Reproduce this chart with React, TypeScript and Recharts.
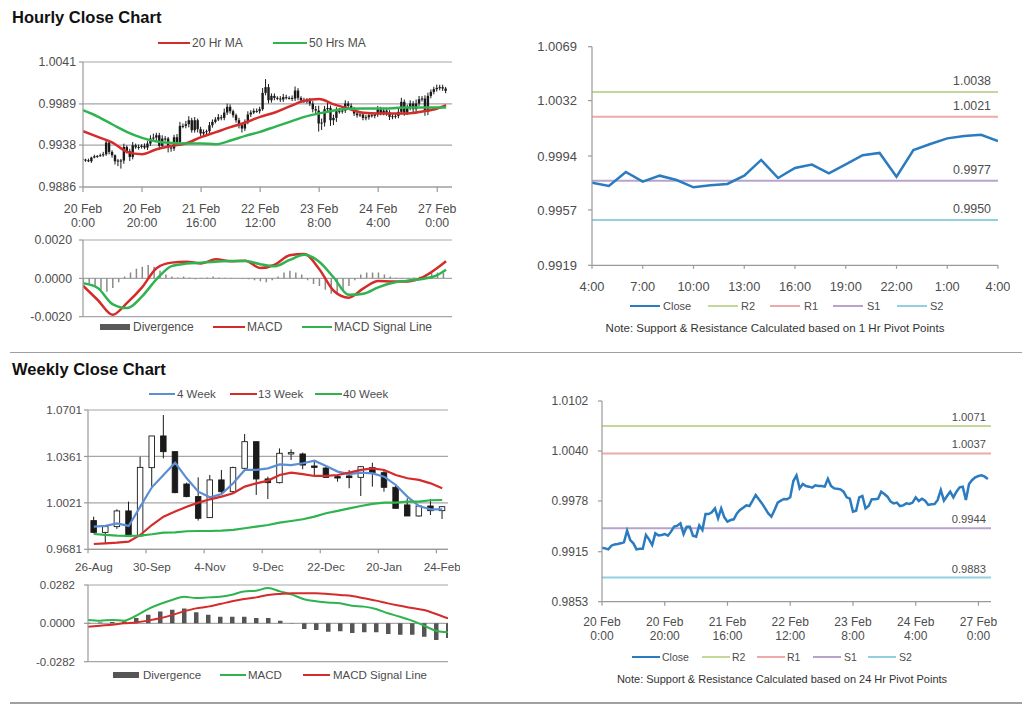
import React from 'react';
import { ComposedChart, LineChart, Line, Bar, XAxis, YAxis, CartesianGrid, ReferenceLine } from 'recharts';

const FONT = '"Liberation Sans", Arial, Helvetica, sans-serif';
const TXT = '#4d4d4d';
const GRID = '#a6a6a6';
const AXIS = '#9a9a9a';
const PIP = 0.0001;

// hourly closes, 20 Feb 0:00 onwards, one per hour
const hourClose = [
  0.992, 0.99192, 0.99179, 0.99225, 0.99241, 0.99246, 0.99254, 0.99266, 0.99411, 0.99295,
  0.99254, 0.99179, 0.99188, 0.99188, 0.99357, 0.99304, 0.99233, 0.99378, 0.99353, 0.99357,
  0.9937, 0.99349, 0.99399, 0.99461, 0.99473, 0.99502, 0.9937, 0.99461, 0.99461, 0.99349,
  0.99337, 0.99477, 0.99419, 0.99618, 0.99618, 0.99639, 0.99688, 0.99564, 0.99688, 0.99577,
  0.99523, 0.99543, 0.99552, 0.99626, 0.99668, 0.99697, 0.99725, 0.99717, 0.99783, 0.99854,
  0.998, 0.9975, 0.99688, 0.99626, 0.99585, 0.99668, 0.99759, 0.99783, 0.99804, 0.998,
  0.99825, 1.00027, 1.00098, 0.99936, 0.9999, 0.99965, 0.99957, 0.99945, 0.99974, 0.99965,
  0.99965, 0.99957, 1.00056, 0.99965, 0.99936, 0.99932, 0.99924, 0.99895, 0.99825, 0.99808,
  0.99647, 0.99659, 0.99825, 0.99841, 0.99688, 0.99717, 0.998, 0.998, 0.99808, 0.99895,
  0.99866, 0.99833, 0.99771, 0.9975, 0.99759, 0.99717, 0.99725, 0.9975, 0.99742, 0.99759,
  0.99825, 0.99779, 0.99808, 0.99783, 0.9973, 0.99738, 0.99742, 0.99792, 0.99916, 0.99783,
  0.99841, 0.99895, 0.99825, 0.99895, 0.99949, 0.99957, 0.99792, 0.9999, 1.0004, 1.00073,
  1.00089, 1.00098, 1.00081, 1.00052,
];
const hourFirstOpen = 0.9921;
// wick beyond the candle body, in pips
const hourWickUp = [
  2, 1, 2, 1, 2, 1, 2, 3, 4, 2, 2, 1, 2, 2, 4, 2, 3, 4, 2, 3, 2, 3, 3, 4, 5, 3, 3, 4, 3, 2,
  3, 3, 4, 5, 3, 4, 5, 3, 4, 2, 3, 3, 2, 4, 3, 3, 4, 3, 5, 4, 3, 2, 2, 3, 2, 3, 4, 3, 3, 3,
  3, 6, 10, 4, 3, 3, 2, 3, 4, 3, 2, 3, 5, 3, 2, 3, 3, 4, 3, 4, 6, 5, 4, 6, 3, 4, 5, 4, 3, 4,
  3, 3, 2, 3, 3, 2, 3, 2, 3, 2, 4, 3, 3, 2, 3, 3, 3, 4, 5, 3, 4, 4, 3, 5, 4, 3, 4, 4, 3, 3,
  4, 3, 3, 2,
];
const hourWickDn = [
  2, 2, 1, 2, 1, 2, 1, 2, 2, 3, 3, 4, 6, 10, 4, 3, 5, 3, 2, 3, 2, 2, 3, 3, 3, 4, 5, 3, 3, 6,
  4, 3, 3, 3, 3, 3, 4, 3, 3, 4, 3, 3, 3, 3, 3, 2, 2, 3, 3, 3, 3, 3, 3, 4, 5, 3, 3, 3, 2, 2,
  3, 2, 3, 4, 3, 3, 2, 3, 3, 2, 2, 3, 3, 3, 2, 3, 3, 3, 4, 5, 10, 8, 5, 4, 7, 6, 5, 3, 3, 3,
  3, 2, 3, 3, 2, 3, 3, 3, 2, 3, 3, 3, 3, 4, 4, 3, 3, 3, 3, 4, 3, 3, 4, 3, 3, 3, 5, 4, 3, 3,
  3, 3, 3, 3,
];
const maHours = [0, 5, 10, 15, 20, 25, 30, 35, 40, 45, 50, 55, 60, 65, 70, 75, 80, 85, 90, 95, 100, 105, 110, 115, 120, 123];
const ma20 = [
  0.99552, 0.99482, 0.99411, 0.99295, 0.99266, 0.99328, 0.9937, 0.99403, 0.99478, 0.9954,
  0.99602, 0.9966, 0.9973, 0.99784, 0.99859, 0.99929, 0.9995, 0.99884, 0.9983, 0.9978,
  0.99772, 0.99772, 0.99772, 0.99797, 0.99834, 0.99875,
];
const ma50 = [
  0.99813, 0.99734, 0.99635, 0.9954, 0.99469, 0.99424, 0.99407, 0.99399, 0.99399, 0.99391,
  0.99436, 0.99494, 0.99544, 0.99606, 0.99668, 0.9973, 0.99772, 0.99809, 0.9983, 0.99834,
  0.99834, 0.99838, 0.99846, 0.99846, 0.99846, 0.99846,
];
const macdHourly = [
  -0.00038, -0.00113, -0.0019, -0.00127, -0.00047, 0.00054, 0.00082, 0.00087, 0.00078, 0.00099,
  0.00089, 0.00092, 0.00054, 0.00071, 0.0012, 0.00127, 0.00049, -0.00066, -0.00101, -0.00052,
  -0.00014, -0.00017, -0.00016, 0.00005, 0.00054, 0.00089,
];
const signalHourly = [
  -0.00026, -0.0005, -0.00134, -0.00155, -0.00094, -0.00003, 0.00064, 0.00077, 0.00082, 0.00087,
  0.0009, 0.0009, 0.00074, 0.00063, 0.00096, 0.00123, 0.00087, 0.00003, -0.00086, -0.0008,
  -0.00047, -0.00023, -0.00012, -0.00003, 0.00017, 0.00045,
];
// divergence, every second hour
const divHourly = [
  -0.0002, -0.0003, -0.0004, -0.0006, -0.0007, -0.0005, -0.0002, 0.0001, 0.0003, 0.0005,
  0.0006, 0.0007, 0.0006, 0.0004, 0.0002, 0.0001, 0.00005, 0.0001, 0.00005, -0.00005,
  0.00003, 0.00005, 0.0001, 0.00005, 0.00003, -0.00003, 0.00002, -0.00003, -0.00005, -0.0001,
  -0.00015, -0.0002, -0.0001, 0.0001, 0.0003, 0.0004, 0.0003, 0.0002, -0.0001, -0.0003,
  -0.0004, -0.0006, -0.0008, -0.0008, -0.0006, -0.0004, -0.0001, 0.0002, 0.0003, 0.0003,
  0.0003, 0.0002, 0.0001, 0.00003, -0.00003, -0.00005, 0.00005, 0.0001, 0.0002, 0.0003,
  0.0003, 0.0003,
];
const hourTickHours = [0, 20, 40, 60, 80, 100, 120];
const hourTickLabels = [
  ['20 Feb', '0:00'], ['20 Feb', '20:00'], ['21 Feb', '16:00'], ['22 Feb', '12:00'],
  ['23 Feb', '8:00'], ['24 Feb', '4:00'], ['27 Feb', '0:00'],
];

// last 24 hours
const dayClose = [
  0.99757, 0.99734, 0.9983, 0.99764, 0.99805, 0.99775, 0.99725, 0.99739, 0.99748, 0.99805,
  0.99913, 0.99789, 0.99858, 0.99881, 0.99821, 0.99883, 0.99945, 0.99961, 0.99798, 0.99981,
  1.00022, 1.00061, 1.00077, 1.00086, 1.00043,
];
const dayTicks = [0, 3, 6, 9, 12, 15, 18, 21, 24];
const dayTickLabels = ['4:00', '7:00', '10:00', '13:00', '16:00', '19:00', '22:00', '1:00', '4:00'];

const pivotNames = ['R2', 'R1', 'S1', 'S2'];
const pivots1h = [1.0038, 1.0021, 0.9977, 0.995];
const pivots24h = [1.0071, 1.0037, 0.9944, 0.9883];

// weekly
const weekOpen = [0.9891, 0.9805, 0.9847, 0.9962, 0.9779, 1.0279, 1.0511, 1.0396, 1.0159, 1.0067, 0.9913, 1.0189, 1.0103, 1.0274, 1.0469, 1.0196, 1.0169, 1.0379, 1.0379, 1.0291, 1.0276, 1.0213, 1.0218, 1.0208, 1.0279, 1.0242, 1.0135, 1.0006, 0.9925, 0.9998, 0.9964];
const weekClose = [0.9805, 0.9847, 0.9962, 0.9774, 1.0281, 1.0511, 1.0396, 1.0096, 1.0067, 0.9908, 1.0189, 1.0103, 1.0279, 1.0469, 1.0196, 1.0169, 1.0384, 1.0389, 1.0298, 1.0281, 1.0208, 1.0203, 1.0206, 1.0286, 1.0242, 1.0135, 0.9981, 0.9925, 0.9998, 0.9964, 0.9993];
const weekHigh = [0.992, 0.9852, 0.9974, 1.003, 1.0359, 1.0511, 1.0664, 1.0396, 1.0169, 1.0208, 1.0225, 1.0262, 1.0286, 1.0525, 1.0469, 1.0213, 1.042, 1.0413, 1.0389, 1.0323, 1.0286, 1.0218, 1.0262, 1.0291, 1.0315, 1.0262, 1.0152, 1.0054, 1.0006, 1.0047, 0.9998];
const weekLow = [0.9798, 0.972, 0.983, 0.9774, 0.9774, 1.014, 1.0347, 1.0091, 1.0062, 0.9891, 0.9913, 1.0079, 1.0091, 1.0262, 1.0079, 1.0049, 1.0164, 1.0335, 1.0267, 1.0225, 1.0206, 1.0176, 1.0128, 1.0071, 1.014, 1.0103, 0.9981, 0.9925, 0.992, 0.9932, 0.9903];
const ma4 = [0.9847, 0.9852, 0.9871, 0.9852, 0.9993, 1.0135, 1.0225, 1.0315, 1.0201, 1.0103, 1.0062, 1.0086, 1.0164, 1.0262, 1.0262, 1.0274, 1.0303, 1.0298, 1.0311, 1.033, 1.0291, 1.025, 1.0232, 1.0242, 1.0237, 1.0213, 1.0152, 1.0067, 0.9998, 0.9974, 0.9974];
const ma13 = [0.972, 0.9725, 0.973, 0.9737, 0.9786, 0.9859, 0.992, 0.9957, 0.9993, 1.0023, 1.0047, 1.0067, 1.0091, 1.014, 1.0164, 1.0184, 1.0225, 1.0242, 1.0232, 1.0218, 1.0218, 1.0225, 1.0242, 1.0262, 1.0274, 1.0262, 1.0225, 1.0201, 1.0189, 1.0164, 1.0128];
const ma40 = [0.9793, 0.9786, 0.9781, 0.9779, 0.9781, 0.9791, 0.9803, 0.9805, 0.9813, 0.9815, 0.9815, 0.9818, 0.9823, 0.9835, 0.9847, 0.9859, 0.9876, 0.9888, 0.9901, 0.992, 0.9945, 0.9962, 0.9981, 0.9998, 1.0013, 1.0023, 1.0023, 1.003, 1.003, 1.004, 1.0042];
const macdWeekly = [0.0025, 0.002, 0.0025, 0.002, 0.0056, 0.0105, 0.0142, 0.0172, 0.0196, 0.0186, 0.0191, 0.0196, 0.0211, 0.0235, 0.024, 0.026, 0.0235, 0.0211, 0.0177, 0.0162, 0.0154, 0.0147, 0.013, 0.0123, 0.0105, 0.0074, 0.0049, 0.002, -0.0017, -0.0054, -0.0066];
const signalWeekly = [-0.0025, -0.0017, -0.001, 0, 0.0007, 0.002, 0.0037, 0.0061, 0.0088, 0.011, 0.0123, 0.0142, 0.0162, 0.0179, 0.0191, 0.0208, 0.0216, 0.0221, 0.0221, 0.0221, 0.0216, 0.0208, 0.0201, 0.0184, 0.0167, 0.0147, 0.013, 0.0113, 0.0098, 0.0069, 0.0037];
const divWeekly = [0.0005, 0.0007, 0.001, 0.0015, 0.0039, 0.0064, 0.0088, 0.01, 0.011, 0.0081, 0.0064, 0.0049, 0.0049, 0.0049, 0.0039, 0.0039, 0.002, 0.0002, -0.0042, -0.0049, -0.0061, -0.0059, -0.0071, -0.0066, -0.0066, -0.0078, -0.0083, -0.0083, -0.0098, -0.0123, -0.0108];
const weekTickIdx = [0, 5, 10, 15, 20, 25, 30];
const weekTickLabels = ['26-Aug', '30-Sep', '4-Nov', '9-Dec', '22-Dec', '20-Jan', '24-Feb'];

const yTicksHour = [0.9886, 0.9938, 0.9989, 1.0041];
const yTicksMacdH = [-0.002, 0, 0.002];
const yTicksDay = [0.9919, 0.9957, 0.9994, 1.0032, 1.0069];
const yTicks24 = [0.9853, 0.9915, 0.9978, 1.004, 1.0102];
const yTicksWeek = [0.9681, 1.0021, 1.0361, 1.0701];
const yTicksMacdW = [-0.0282, 0, 0.0282];

// colours
const RED = '#d42b2b';
const GREEN = '#2eb34f';
const BLUE = '#2a7bc0';
const WBLUE = '#5b8ed4';
const pivotColors = ['#c4d79b', '#eeaaaa', '#b7a4cd', '#92cfe0'];

type Row = { [k: string]: number | undefined };

const hourlyRows: Row[] = hourClose.map((c, h) => {
  const o = h === 0 ? hourFirstOpen : hourClose[h - 1];
  return { h, o, c, hi: Math.max(o, c) + hourWickUp[h] * PIP, lo: Math.min(o, c) - hourWickDn[h] * PIP };
});
maHours.forEach((h, k) => {
  Object.assign(hourlyRows[h], { ma20: ma20[k], ma50: ma50[k], macd: macdHourly[k], sig: signalHourly[k] });
});
divHourly.forEach((v, k) => {
  hourlyRows[k * 2].div = v;
});

const dayRows = dayClose.map((c, i) => ({ i, c }));

const weekRows = weekClose.map((c, i) => ({
  i, o: weekOpen[i], c, hi: weekHigh[i], lo: weekLow[i],
  ma4: ma4[i], ma13: ma13[i], ma40: ma40[i],
  macd: macdWeekly[i], sig: signalWeekly[i], div: divWeekly[i],
}));

const fmt4 = (v: number) => v.toFixed(4);

function Candle(props: any) {
  const { x, y, width, height, payload, bodyW, hollow } = props;
  if (!isFinite(x) || !isFinite(y) || !isFinite(height)) return null;
  const top = Math.min(y, y + height);
  const bot = Math.max(y, y + height);
  const { o, c, hi, lo } = payload;
  const k = hi > lo ? (bot - top) / (hi - lo) : 0;
  const py = (v: number) => top + (hi - v) * k;
  const cx = x + width / 2;
  const yo = py(o);
  const yc = py(c);
  const up = c >= o;
  return (
    <g>
      <line x1={cx} x2={cx} y1={top} y2={bot} stroke="#1a1a1a" strokeWidth={1} />
      <rect
        x={cx - bodyW / 2}
        y={Math.min(yo, yc)}
        width={bodyW}
        height={Math.max(1, Math.abs(yo - yc))}
        fill={hollow && up ? '#fff' : '#1a1a1a'}
        stroke="#1a1a1a"
        strokeWidth={hollow ? 0.9 : 0}
      />
    </g>
  );
}

function AxisTick(props: any) {
  const { x, y, lines, size, base, gap, mark, markDx = 0 } = props;
  if (!lines) return null;
  return (
    <g>
      {mark ? <line x1={x + markDx} x2={x + markDx} y1={y} y2={y + mark} stroke={AXIS} strokeWidth={1.2} /> : null}
      <text x={x} y={y + base} textAnchor="middle" fontSize={size} fill={TXT} fontFamily={FONT}>
        {lines.map((t: string, k: number) => (
          <tspan key={k} x={x} dy={k === 0 ? 0 : gap}>{t}</tspan>
        ))}
      </text>
    </g>
  );
}

type Key = { x: number; w: number; tx: number; color: string; label: string; bar?: boolean };

function Keys({ y, size, items }: { y: number; size: number; items: Key[] }) {
  return (
    <>
      {items.map((k) => (
        <React.Fragment key={k.label}>
          <div style={{ position: 'absolute', left: k.x, top: y - (k.bar ? 3 : 1), width: k.w, height: k.bar ? 6 : 2, background: k.color }} />
          <div style={{ position: 'absolute', left: k.tx, top: y - 9, height: 18, lineHeight: '18px', fontSize: size, color: TXT, whiteSpace: 'nowrap' }}>
            {k.label}
          </div>
        </React.Fragment>
      ))}
    </>
  );
}

function Note({ cx, y, size, text }: { cx: number; y: number; size: number; text: string }) {
  return (
    <div style={{ position: 'absolute', left: cx - 260, width: 520, top: y - 9, lineHeight: '18px', textAlign: 'center', fontSize: size, color: '#333', whiteSpace: 'nowrap' }}>
      {text}
    </div>
  );
}

const yAxisCommon = {
  type: 'number' as const,
  allowDataOverflow: true,
  interval: 0 as const,
  axisLine: { stroke: AXIS, strokeWidth: 1.2 },
  tickLine: { stroke: AXIS, strokeWidth: 1.2 },
  tickSize: 4,
  tickFormatter: fmt4,
};

export default function App() {
  return (
    <div style={{ position: 'absolute', left: 0, top: 0, width: 1024, height: 705, background: '#fff', fontFamily: FONT, overflow: 'hidden' }}>
      <div style={{ position: 'absolute', left: 12, top: 6.5, lineHeight: '20px', fontSize: 16.5, fontWeight: 'bold', color: '#111' }}>Hourly Close Chart</div>
      <div style={{ position: 'absolute', left: 12, top: 359, lineHeight: '20px', fontSize: 16.5, fontWeight: 'bold', color: '#111' }}>Weekly Close Chart</div>
      <div style={{ position: 'absolute', left: 10, top: 351.5, width: 1012, height: 1.5, background: '#a0a0a0' }} />
      <div style={{ position: 'absolute', left: 10, top: 702, width: 1012, height: 1.5, background: '#a0a0a0' }} />

      {/* hourly candles */}
      <div style={{ position: 'absolute', left: 0, top: 40 }}>
        <ComposedChart width={465} height={195} data={hourlyRows} margin={{ top: 22, right: 13, left: 0, bottom: 0 }}>
          <CartesianGrid vertical={false} stroke={GRID} strokeWidth={1.2} />
          <XAxis
            type="number" dataKey="h" domain={[0, 125]} ticks={hourTickHours} interval={0} allowDataOverflow
            height={48} axisLine={{ stroke: AXIS, strokeWidth: 1.2 }} tickLine={false} tickSize={0} tickMargin={0}
            tick={(p: any) => <AxisTick {...p} lines={hourTickLabels[hourTickHours.indexOf(p.payload.value)]} size={12.3} base={25.8} gap={14} mark={5} />}
          />
          <YAxis {...yAxisCommon} domain={[0.9886, 1.0041]} ticks={yTicksHour} width={83} tickMargin={3} tick={{ fontSize: 12.3, fill: TXT, fontFamily: FONT }} />
          <Bar dataKey={(d: any) => [d.lo, d.hi]} barSize={2} isAnimationActive={false} shape={(p: any) => <Candle {...p} bodyW={2.4} />} />
          <Line dataKey="ma20" type="monotone" stroke={RED} strokeWidth={2.5} dot={false} connectNulls isAnimationActive={false} />
          <Line dataKey="ma50" type="monotone" stroke={GREEN} strokeWidth={2.5} dot={false} connectNulls isAnimationActive={false} />
        </ComposedChart>
      </div>
      <Keys y={43} size={12} items={[
        { x: 158, w: 32, tx: 192, color: RED, label: '20 Hr MA' },
        { x: 273, w: 34, tx: 309, color: GREEN, label: '50 Hrs MA' },
      ]} />

      {/* hourly MACD */}
      <div style={{ position: 'absolute', left: 0, top: 230 }}>
        <ComposedChart width={465} height={100} data={hourlyRows} margin={{ top: 10, right: 13, left: 0, bottom: 13.3 }}>
          <CartesianGrid vertical={false} stroke={GRID} strokeWidth={1.2} />
          <XAxis type="number" dataKey="h" domain={[0, 125]} hide allowDataOverflow />
          <YAxis {...yAxisCommon} domain={[-0.002, 0.002]} ticks={yTicksMacdH} width={83} tickMargin={7} tick={{ fontSize: 12.3, fill: TXT, fontFamily: FONT }} />
          <Bar dataKey="div" barSize={1.5} fill="#8a8a8a" isAnimationActive={false} />
          <Line dataKey="macd" type="monotone" stroke={RED} strokeWidth={2.5} dot={false} connectNulls isAnimationActive={false} />
          <Line dataKey="sig" type="monotone" stroke={GREEN} strokeWidth={2.5} dot={false} connectNulls isAnimationActive={false} />
        </ComposedChart>
      </div>
      <Keys y={326.7} size={12} items={[
        { x: 100, w: 30, tx: 133, color: '#595959', label: 'Divergence', bar: true },
        { x: 213, w: 32, tx: 247, color: RED, label: 'MACD' },
        { x: 302, w: 30, tx: 334, color: GREEN, label: 'MACD Signal Line' },
      ]} />

      {/* last 24 hours with 1 hr pivots */}
      <div style={{ position: 'absolute', left: 500, top: 30 }}>
        <LineChart width={510} height={270} data={dayRows} margin={{ top: 16.7, right: 12, left: 0, bottom: 0 }}>
          <XAxis
            type="number" dataKey="i" domain={[0, 24]} ticks={dayTicks} interval={0} allowDataOverflow
            height={34.7} axisLine={{ stroke: AXIS, strokeWidth: 1.2 }} tickLine={false} tickSize={0} tickMargin={0}
            tick={(p: any) => <AxisTick {...p} lines={[dayTickLabels[dayTicks.indexOf(p.payload.value)]]} size={12.8} base={26} gap={0} mark={3.5} />}
          />
          <YAxis {...yAxisCommon} domain={[0.9919, 1.0069]} ticks={yTicksDay} width={92} tickMargin={11} tick={{ fontSize: 13, fill: TXT, fontFamily: FONT }} />
          {pivots1h.map((v, k) => (
            <ReferenceLine key={pivotNames[k]} y={v} stroke={pivotColors[k]} strokeWidth={2}
              label={{ value: fmt4(v), position: 'insideBottomRight', offset: 7, fill: TXT, fontSize: 12.4, fontFamily: FONT }} />
          ))}
          <Line dataKey="c" type="linear" stroke={BLUE} strokeWidth={2.5} dot={false} isAnimationActive={false} />
        </LineChart>
      </div>
      <Keys y={305.7} size={11} items={[
        { x: 630, w: 30, tx: 663, color: BLUE, label: 'Close' },
        ...pivotNames.map((n, k) => ({ x: [708, 770, 833, 897][k], w: 30, tx: [741, 804, 867, 930][k], color: pivotColors[k], label: n })),
      ]} />
      <Note cx={775} y={327.7} size={11.5} text="Note: Support & Resistance Calculated based on 1 Hr Pivot Points" />

      {/* weekly candles */}
      <div style={{ position: 'absolute', left: 0, top: 400 }}>
        <ComposedChart width={460} height={180} data={weekRows} margin={{ top: 10, right: 12, left: 0, bottom: 0 }}>
          <CartesianGrid vertical={false} stroke={GRID} strokeWidth={1.2} />
          <XAxis
            type="category" dataKey="i" interval={0} height={30.7}
            axisLine={{ stroke: AXIS, strokeWidth: 1.2 }} tickLine={false} tickSize={0} tickMargin={0}
            tick={(p: any) => {
              const k = weekTickIdx.indexOf(p.payload.value);
              return k < 0 ? <g /> : <AxisTick {...p} lines={[weekTickLabels[k]]} size={11.7} base={22} gap={0} mark={4} markDx={-5.8} />;
            }}
          />
          <YAxis {...yAxisCommon} domain={[0.9681, 1.0701]} ticks={yTicksWeek} width={88} tickMargin={2} tick={{ fontSize: 11.7, fill: TXT, fontFamily: FONT }} />
          <Bar dataKey={(d: any) => [d.lo, d.hi]} isAnimationActive={false} shape={(p: any) => <Candle {...p} bodyW={5.5} hollow />} />
          <Line dataKey="ma4" type="linear" stroke={WBLUE} strokeWidth={2.2} dot={false} isAnimationActive={false} />
          <Line dataKey="ma13" type="linear" stroke={RED} strokeWidth={2.2} dot={false} isAnimationActive={false} />
          <Line dataKey="ma40" type="linear" stroke={GREEN} strokeWidth={2.2} dot={false} isAnimationActive={false} />
        </ComposedChart>
      </div>
      <Keys y={394.3} size={11.5} items={[
        { x: 149, w: 26, tx: 177, color: WBLUE, label: '4 Week' },
        { x: 230, w: 27, tx: 258, color: RED, label: '13 Week' },
        { x: 315, w: 27, tx: 343, color: GREEN, label: '40 Week' },
      ]} />

      {/* weekly MACD */}
      <div style={{ position: 'absolute', left: 0, top: 578 }}>
        <ComposedChart width={460} height={96} data={weekRows} margin={{ top: 7, right: 12, left: 0, bottom: 12.3 }}>
          <CartesianGrid vertical={false} stroke={GRID} strokeWidth={1.2} />
          <XAxis type="number" dataKey="i" domain={[0, 30]} hide allowDataOverflow />
          <YAxis {...yAxisCommon} domain={[-0.0282, 0.0282]} ticks={yTicksMacdW} width={88} tickMargin={9} tick={{ fontSize: 11.5, fill: TXT, fontFamily: FONT }} />
          <Bar dataKey="div" barSize={4.5} fill="#555" isAnimationActive={false} />
          <Line dataKey="macd" type="monotone" stroke={GREEN} strokeWidth={2} dot={false} isAnimationActive={false} />
          <Line dataKey="sig" type="monotone" stroke={RED} strokeWidth={2} dot={false} isAnimationActive={false} />
        </ComposedChart>
      </div>
      <Keys y={675} size={11.5} items={[
        { x: 113, w: 26, tx: 143, color: '#555', label: 'Divergence', bar: true },
        { x: 220, w: 26, tx: 248, color: GREEN, label: 'MACD' },
        { x: 303, w: 27, tx: 333, color: RED, label: 'MACD Signal Line' },
      ]} />

      {/* hourly close with 24 hr pivots */}
      <div style={{ position: 'absolute', left: 500, top: 390 }}>
        <LineChart width={505} height={260} data={hourlyRows} margin={{ top: 11, right: 14, left: 0, bottom: 0 }}>
          <XAxis
            type="number" dataKey="h" domain={[0, 124]} ticks={hourTickHours} interval={0} allowDataOverflow
            height={48.3} axisLine={{ stroke: AXIS, strokeWidth: 1.2 }} tickLine={false} tickSize={0} tickMargin={0}
            tick={(p: any) => <AxisTick {...p} lines={hourTickLabels[hourTickHours.indexOf(p.payload.value)]} size={12} base={24.2} gap={14.3} mark={4} />}
          />
          <YAxis {...yAxisCommon} domain={[0.9853, 1.0102]} ticks={yTicks24} width={102} tickMargin={9.7} tick={{ fontSize: 12, fill: TXT, fontFamily: FONT }} />
          {pivots24h.map((v, k) => (
            <ReferenceLine key={pivotNames[k]} y={v} stroke={pivotColors[k]} strokeWidth={2}
              label={{ value: fmt4(v), position: 'insideBottomRight', offset: 5, fill: TXT, fontSize: 11.2, fontFamily: FONT }} />
          ))}
          <Line dataKey="c" type="linear" stroke={BLUE} strokeWidth={2.5} dot={false} isAnimationActive={false} />
        </LineChart>
      </div>
      <Keys y={656.7} size={10.5} items={[
        { x: 632, w: 28, tx: 662, color: BLUE, label: 'Close' },
        ...pivotNames.map((n, k) => ({ x: [702, 757, 813, 868][k], w: 28, tx: [732, 787, 844, 899][k], color: pivotColors[k], label: n })),
      ]} />
      <Note cx={782} y={679.3} size={11} text="Note: Support & Resistance Calculated based on 24 Hr Pivot Points" />
    </div>
  );
}
